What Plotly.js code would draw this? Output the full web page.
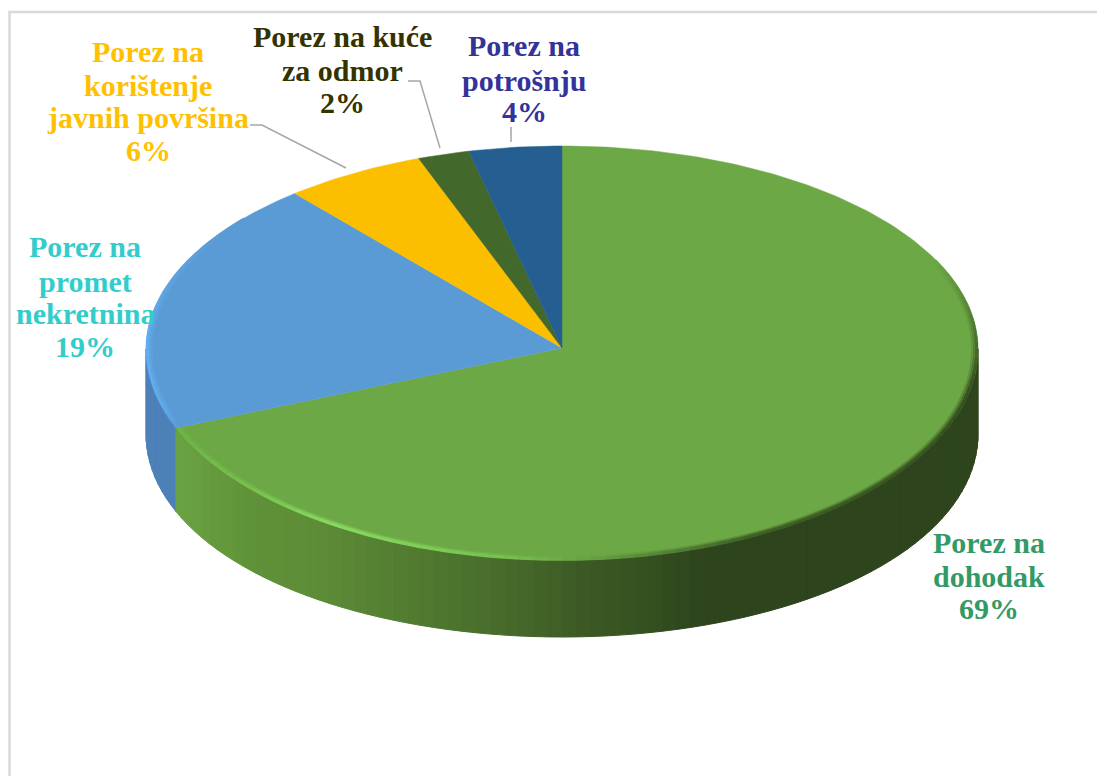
<!DOCTYPE html>
<html><head><meta charset="utf-8">
<script src="https://cdn.plot.ly/plotly-3.0.1.min.js"></script>
<style>html,body{margin:0;padding:0;background:#fff}#c{width:1097px;height:776px}</style>
</head><body><div id="c"></div>
<script>
const categories = ["Porez na dohodak","Porez na promet nekretnina","Porez na korištenje javnih površina","Porez na kuće za odmor","Porez na potrošnju"];
const values = [68.9, 20.0, 5.5, 2.0, 3.6];
const percentLabels = ["69%","19%","6%","2%","4%"];
const sliceColors = ["#6da846","#5b9bd5","#fcbf00","#43682b","#255e91"];
const labelColors = ["#339966","#33cccc","#ffc000","#333300","#333399"];
const labelLines = [["Porez na","dohodak"],["Porez na","promet","nekretnina"],["Porez na","korištenje","javnih površina"],["Porez na kuće","za odmor"],["Porez na","potrošnju"]];

const G = {cx:562, cy:349, rx:416, ryT:203, ryB:211, depth:77, sideExtra:8};
const labelPos = [{x:989,y:[542,576,608]},{x:85,y:[246,281,313,346]},{x:148,y:[51,85,117,150]},{x:342,y:[36,70,102]},{x:524,y:[45,80,111]}];

function pt(t, d, s){
  const r = t*Math.PI/180, c = Math.cos(r), k = s||1;
  return [G.cx + k*G.rx*Math.sin(r), G.cy - k*(c>0?G.ryT:G.ryB)*c + (d||0)];
}
function wallDepth(t){const q=Math.sin(t*Math.PI/180); return G.depth+G.sideExtra*q*q;}
function hex(c){return [1,3,5].map(i=>parseInt(c.substr(i,2),16));}
function ramp(stops, v){
  if(v<=stops[0][0]) return stops[0][1];
  for(let i=1;i<stops.length;i++){
    if(v<=stops[i][0]){
      const f=(v-stops[i-1][0])/(stops[i][0]-stops[i-1][0]), a=hex(stops[i-1][1]), b=hex(stops[i][1]);
      return 'rgb('+a.map((q,k)=>Math.round(q+(b[k]-q)*f)).join(',')+')';
    }
  }
  return stops[stops.length-1][1];
}
const wallStops=[[175,"#6aa343"],[250,"#5f9238"],[320,"#5d8c37"],[400,"#537d31"],[480,"#4a702c"],[580,"#3d5a25"],[650,"#34501f"],[700,"#2e441d"],[978,"#2e441d"]];
const bevelStops=[[175,"#6db547"],[250,"#78c04e"],[330,"#8ad963"],[400,"#82d15b"],[500,"#78c050"],[580,"#6aa645"],[650,"#578839"],[750,"#3f6027"],[978,"#35501f"]];
const blueBevel=[[248,"#5b9bd5"],[254,"#62aaea"],[270,"#64aef0"],[290,"#5ea3e0"],[308,"#5b9bd5"]];

const traces=[];
const base={type:'scatter',mode:'lines',hoverinfo:'skip',showlegend:false};
function quad(t0,t1,col){
  const a=pt(t0),b=pt(t1),c=pt(t1,wallDepth(t1)),d=pt(t0,wallDepth(t0));
  traces.push({...base,x:[a[0],b[0],c[0],d[0],a[0]],y:[a[1],b[1],c[1],d[1],a[1]],fill:'toself',fillcolor:col,line:{color:col,width:1}});
}
let acc=0; const angles=values.map(v=>{const s=acc; acc+=v*3.6; return [s,acc];});
const g1=angles[0][1];
for(let t=g1;t<270;t+=2) quad(t,Math.min(t+2,270),"#4c80b8");
for(let t=90;t<g1;t+=2){const e=Math.min(t+2,g1); quad(t,e,ramp(wallStops,pt((t+e)/2)[0]));}
angles.forEach(([s,e],i)=>{
  const xs=[G.cx],ys=[G.cy-1];
  for(let t=s;;t+=1){const q=pt(Math.min(t,e)); xs.push(q[0]); ys.push(q[1]); if(t>=e)break;}
  xs.push(G.cx); ys.push(G.cy-1);
  traces.push({...base,name:categories[i],x:xs,y:ys,fill:'toself',fillcolor:sliceColors[i],line:{color:sliceColors[i],width:0.5}});
});
// soft rim: concentric strokes that get stronger toward the outer edge
const rimBands=[[0.987,0.25],[0.992,0.55],[0.997,1]];
function rim(t,e,col,width){
  rimBands.forEach(([s,op])=>{
    const a=pt(t,0,s),b=pt(e,0,s);
    traces.push({...base,x:[a[0],b[0]],y:[a[1],b[1]],line:{color:col,width:width},opacity:op});
  });
}
for(let t=64;t<g1;t+=2){
  const e=Math.min(t+2,g1),m=(t+e)/2;
  let col=ramp(bevelStops,pt(m)[0]);
  if(m<100) col=ramp([[64,"#6da846"],[100,"#35501f"]],m);
  rim(t,e,col,3);
}
for(let t=g1;t<310;t+=2) rim(t,t+2,ramp(blueBevel,t+1),3);
const annotations=[];
labelLines.forEach((lines,i)=>{
  lines.concat(percentLabels[i]).forEach((txt,j)=>{
    annotations.push({x:labelPos[i].x,y:labelPos[i].y[j],xref:'x',yref:'y',text:txt,showarrow:false,xanchor:'center',yanchor:'middle',
      font:{family:'"Liberation Serif",serif',size:30,color:labelColors[i],weight:700}});
  });
});
const lead={type:'path',xref:'x',yref:'y',line:{color:'#a6a6a6',width:1.5}};
const frame={type:'path',xref:'x',yref:'y',layer:'below',line:{color:'#d9d9d9',width:2.5}};
const layout={width:1097,height:776,margin:{l:0,r:0,t:0,b:0},paper_bgcolor:'#fff',plot_bgcolor:'#fff',showlegend:false,
  xaxis:{range:[0,1097],visible:false,fixedrange:true},yaxis:{range:[776,0],visible:false,fixedrange:true},
  annotations,
  shapes:[
    {...frame,path:'M9.5 776 L9.5 12 L1097 12'},
    {...lead,path:'M250 125 L262 125 L346 168'},
    {...lead,path:'M408 81 L420 81 L440 148'},
    {...lead,path:'M511 127 L511 142'}
  ]};
Plotly.newPlot('c',traces,layout,{displayModeBar:false,staticPlot:true});
</script></body></html>
